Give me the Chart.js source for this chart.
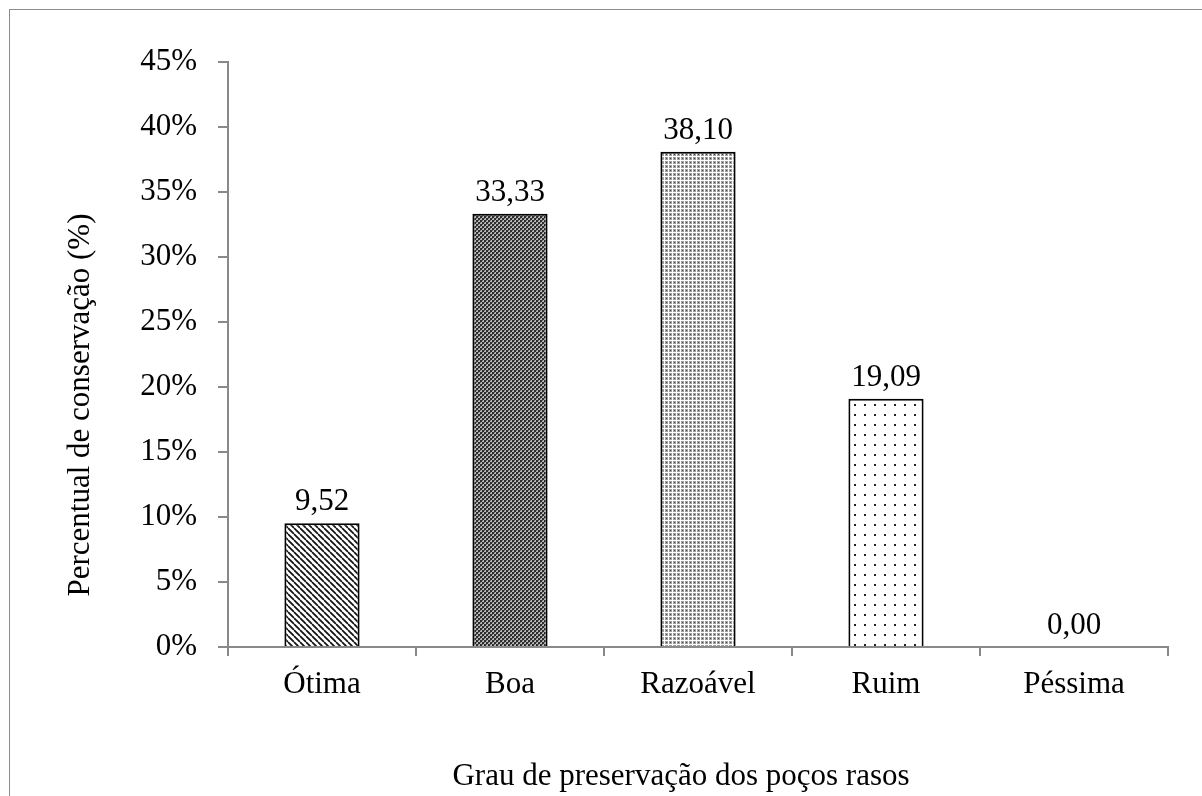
<!DOCTYPE html>
<html>
<head>
<meta charset="utf-8">
<title>Grau de preservação dos poços rasos</title>
<script src="https://cdn.jsdelivr.net/npm/chart.js@4.4.1/dist/chart.umd.min.js"></script>
<style>
  html, body { margin: 0; padding: 0; background: #fff; overflow: hidden; }
  #wrap { position: relative; width: 1202px; height: 796px; }
  #frame { position: absolute; left: 9px; top: 9px; width: 1300px; height: 900px;
           border: 1.5px solid #8c8c8c; box-sizing: border-box; pointer-events: none; }
  canvas { position: absolute; left: 0; top: 0; }
</style>
</head>
<body>
<div id="wrap">
  <canvas id="chart" width="1202" height="796"></canvas>
  <div id="frame"></div>
</div>
<script>
// Preservation grade of shallow wells (% of wells)
const categories = ['Ótima', 'Boa', 'Razoável', 'Ruim', 'Péssima'];
const percentages = [9.52, 33.33, 38.10, 19.09, 0.00];
const yTickStep = 5;
const yMax = 45;
const yTitle = 'Percentual de conservação (%)';
const xTitle = 'Grau de preservação dos poços rasos';

const FONT = '"Liberation Serif", "Times New Roman", serif';
const FONT_SIZE = 31;
const AXIS_GREY = '#898989';

// Monochrome fill patterns, one per bar
function tile(w, h, paint) {
  const c = document.createElement('canvas');
  c.width = w; c.height = h;
  const g = c.getContext('2d');
  paint(g, w, h);
  return g.createPattern(c, 'repeat');
}
const ctx = document.getElementById('chart').getContext('2d');

const hatchDiagonal = tile(6, 6, (g, w, h) => {
  g.fillStyle = '#fff'; g.fillRect(0, 0, w, h);
  g.strokeStyle = '#111'; g.lineWidth = 1.7;
  for (let k = -1; k <= 1; k++) {
    g.beginPath(); g.moveTo(k * w, 0); g.lineTo(k * w + w, h); g.stroke();
  }
});
const checkerDark = tile(4, 4, (g) => {
  g.fillStyle = '#b8b8b8'; g.fillRect(0, 0, 4, 4);
  g.fillStyle = '#2e2e2e'; g.fillRect(0, 0, 2, 2); g.fillRect(2, 2, 2, 2);
  g.fillStyle = '#6a6a6a'; g.fillRect(2, 0, 1, 1); g.fillRect(0, 2, 1, 1);
});
const dotsDense = tile(4, 4, (g) => {
  g.fillStyle = '#ffffff'; g.fillRect(0, 0, 4, 4);
  g.fillStyle = '#a0a0a0'; g.fillRect(1, 1, 3, 3);
  g.fillStyle = '#4a4a4a'; g.fillRect(2, 2, 1, 1);
});
const dotsSparse = tile(10, 10, (g) => {
  g.fillStyle = '#fff'; g.fillRect(0, 0, 10, 10);
  g.fillStyle = '#222'; g.fillRect(4, 4, 2, 2);
});
const barFills = [hatchDiagonal, checkerDark, dotsDense, dotsSparse, '#fff'];

// Value labels above the bars, decimal comma
const valueLabels = {
  id: 'valueLabels',
  afterDatasetsDraw(chart) {
    const g = chart.ctx;
    const meta = chart.getDatasetMeta(0);
    g.save();
    g.font = FONT_SIZE + 'px ' + FONT;
    g.fillStyle = '#000';
    g.textAlign = 'center';
    g.textBaseline = 'alphabetic';
    meta.data.forEach((bar, i) => {
      const txt = percentages[i].toFixed(2).replace('.', ',');
      g.fillText(txt, bar.x, bar.y - 13);
    });
    g.restore();
  }
};

// Axis titles
const axisTitles = {
  id: 'axisTitles',
  afterDraw(chart) {
    const g = chart.ctx;
    g.save();
    g.font = FONT_SIZE + 'px ' + FONT;
    g.fillStyle = '#000';
    g.textAlign = 'center';
    g.textBaseline = 'alphabetic';
    g.fillText(xTitle, 681, 785);
    g.translate(89, 405);
    g.rotate(-Math.PI / 2);
    g.fillText(yTitle, 0, 0);
    g.restore();
  }
};

new Chart(ctx, {
  type: 'bar',
  data: {
    labels: categories,
    datasets: [{
      data: percentages,
      backgroundColor: barFills,
      borderColor: '#000',
      borderWidth: 2,
      borderSkipped: 'start',
      categoryPercentage: 1,
      barPercentage: 0.4
    }]
  },
  options: {
    responsive: false,
    animation: false,
    devicePixelRatio: 1,
    layout: { padding: { top: 62, right: 34, left: 0, bottom: 0 } },
    plugins: { legend: { display: false }, tooltip: { enabled: false } },
    scales: {
      x: {
        afterFit(scale) { scale.height = 149; },
        border: { color: AXIS_GREY, width: 2 },
        grid: { offset: true, drawOnChartArea: false, drawTicks: true, tickLength: 9,
                color: AXIS_GREY, lineWidth: 2 },
        ticks: { color: '#000', padding: 10, font: { family: FONT, size: FONT_SIZE } }
      },
      y: {
        min: 0,
        max: yMax,
        afterFit(scale) { scale.width = 228; },
        border: { color: AXIS_GREY, width: 2 },
        grid: { drawOnChartArea: false, drawTicks: true, tickLength: 10,
                color: AXIS_GREY, lineWidth: 2 },
        ticks: { stepSize: yTickStep, color: '#000', padding: 21,
                 font: { family: FONT, size: FONT_SIZE },
                 callback: (v) => v + '%' }
      }
    }
  },
  plugins: [valueLabels, axisTitles]
});
</script>
</body>
</html>
